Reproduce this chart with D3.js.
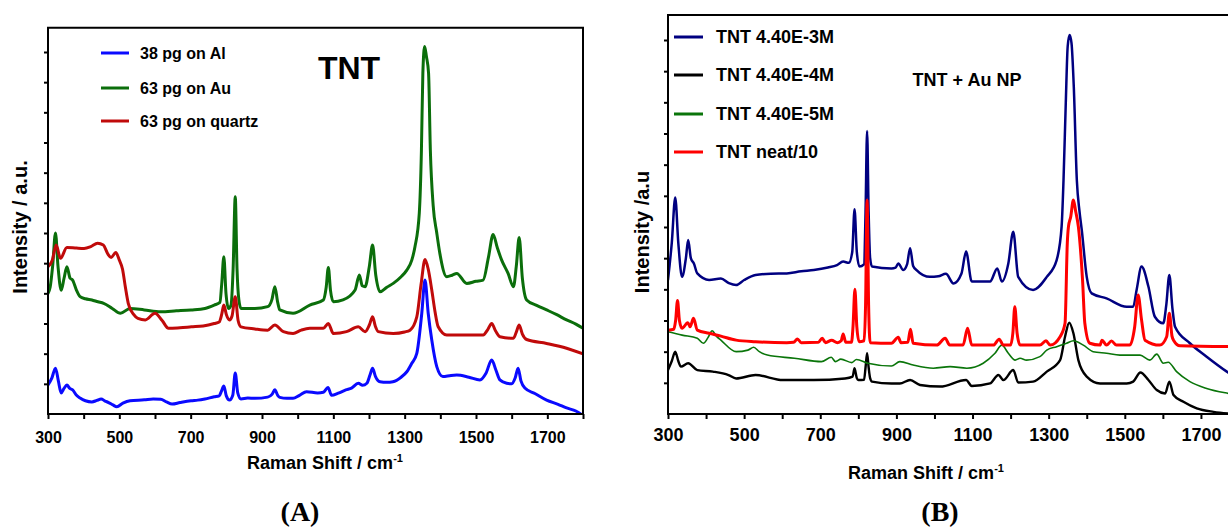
<!DOCTYPE html>
<html><head><meta charset="utf-8">
<script src="https://cdn.jsdelivr.net/npm/d3@7"></script>
<style>
html,body{margin:0;padding:0;background:#fff;}
svg{display:block;}
text{font-weight:bold;fill:#000;}
</style></head>
<body>
<svg id="c" width="1228" height="529"></svg>
<script>
// ---------- Data (wavenumber cm-1, intensity in y-tick units) ----------
const xTicks = [300,400,500,600,700,800,900,1000,1100,1200,1300,1400,1500,1600,1700,1800];
const xTickLabels = [300,500,700,900,1100,1300,1500,1700];
const yTicks = [1,2,3,4,5,6,7,8,9,10,11,12];

const legendA = ["38 pg on Al","63 pg on Au","63 pg on quartz"];
const legendB = ["TNT 4.40E-3M","TNT 4.40E-4M","TNT 4.40E-5M","TNT neat/10"];

const al38 = [[300,0.96],[311,1.2],[321,1.52],[329,1.1],[337,0.70],[345,0.85],[353,0.96],[361,0.85],[369,0.80],[380,0.62],[390,0.53],[405,0.44],[423,0.40],[437,0.45],[449,0.50],[460,0.43],[470,0.38],[482,0.30],[493,0.24],[510,0.36],[530,0.44],[570,0.47],[595,0.50],[616,0.49],[632,0.40],[648,0.33],[670,0.38],[701,0.44],[720,0.46],[740,0.50],[766,0.57],[780,0.60],[786,0.75],[793,0.93],[800,0.6],[809,0.46],[818,0.62],[825,1.36],[832,0.70],[841,0.50],[860,0.53],[880,0.52],[916,0.56],[928,0.65],[936,0.80],[944,0.62],[950,0.55],[970,0.52],[987,0.52],[1005,0.62],[1025,0.74],[1056,0.70],[1072,0.72],[1085,0.88],[1095,0.62],[1114,0.69],[1135,0.80],[1151,0.86],[1170,1.02],[1182,0.95],[1194,1.02],[1203,1.3],[1210,1.52],[1218,1.25],[1231,1.07],[1250,1.05],[1267,1.07],[1290,1.22],[1306,1.40],[1320,1.68],[1334,2.01],[1348,3.34],[1357,4.44],[1366,3.34],[1376,2.45],[1390,1.57],[1407,1.24],[1430,1.28],[1446,1.29],[1480,1.22],[1511,1.13],[1528,1.35],[1544,1.79],[1556,1.45],[1567,1.13],[1586,1.02],[1600,1.00],[1610,1.2],[1618,1.52],[1626,1.1],[1637,0.86],[1665,0.68],[1698,0.46],[1730,0.32],[1754,0.20],[1780,0.10],[1800,-0.05]];

const au63 = [[300,4.0],[306,4.2],[313,4.9],[321,6.0],[328,4.9],[337,4.1],[345,4.5],[353,4.88],[362,4.5],[369,4.44],[380,4.1],[390,3.89],[405,3.82],[423,3.78],[440,3.72],[456,3.67],[480,3.5],[503,3.34],[530,3.5],[570,3.45],[616,3.39],[660,3.42],[701,3.45],[740,3.5],[766,3.61],[782,3.7],[787,4.3],[793,5.21],[799,4.0],[806,3.5],[813,3.6],[819,4.8],[825,7.2],[830,4.8],[835,3.8],[841,3.5],[880,3.5],[916,3.56],[928,3.8],[936,4.22],[944,3.7],[950,3.45],[987,3.34],[1034,3.61],[1072,3.78],[1080,4.2],[1086,4.86],[1092,4.1],[1100,3.72],[1127,3.78],[1161,4.11],[1173,4.61],[1181,4.25],[1189,4.22],[1201,4.9],[1210,5.6],[1219,4.6],[1231,4.05],[1250,4.2],[1268,4.33],[1290,4.55],[1306,4.77],[1320,5.1],[1329,5.55],[1341,6.66],[1347,8.75],[1351,11.3],[1356,12.18],[1361,11.85],[1367,11.3],[1372,8.75],[1380,6.9],[1390,6.0],[1399,5.3],[1418,4.55],[1433,4.6],[1446,4.66],[1474,4.33],[1500,4.4],[1520,4.44],[1535,5.2],[1548,5.95],[1560,5.5],[1572,5.1],[1590,4.66],[1605,4.22],[1613,4.9],[1621,5.85],[1630,4.5],[1642,3.78],[1670,3.6],[1698,3.45],[1725,3.3],[1754,3.12],[1780,2.98],[1800,2.84]];

const quartz63 = [[300,4.88],[312,5.1],[323,5.6],[335,5.16],[353,5.52],[380,5.5],[401,5.49],[420,5.55],[439,5.66],[455,5.6],[468,5.3],[477,5.19],[490,5.35],[500,5.1],[509,4.8],[517,4.2],[525,3.67],[540,3.3],[552,3.17],[573,3.12],[600,3.34],[620,3.1],[638,2.84],[670,2.86],[702,2.89],[735,2.92],[766,3.0],[780,3.05],[787,3.3],[793,3.61],[800,3.3],[809,3.12],[816,3.25],[825,3.89],[833,3.1],[841,2.89],[880,2.82],[916,2.78],[936,2.95],[960,2.73],[987,2.67],[1010,2.78],[1034,2.84],[1072,2.84],[1086,3.0],[1100,2.67],[1137,2.73],[1170,2.89],[1189,2.73],[1201,2.95],[1210,3.22],[1218,2.9],[1226,2.73],[1268,2.67],[1300,2.72],[1315,2.78],[1334,3.22],[1346,4.3],[1357,5.12],[1366,4.8],[1376,4.11],[1385,3.4],[1394,2.89],[1418,2.62],[1474,2.62],[1520,2.62],[1533,2.8],[1544,3.0],[1555,2.75],[1567,2.56],[1605,2.51],[1614,2.75],[1621,2.95],[1630,2.65],[1642,2.47],[1698,2.34],[1754,2.18],[1800,1.99]];

const m3 = [[300,4.3],[310,5.5],[319,6.95],[327,5.5],[337,4.4],[347,5.0],[353,5.58],[360,5.0],[368,4.83],[377,4.51],[408,4.3],[439,4.35],[460,4.2],[479,4.14],[500,4.3],[530,4.46],[570,4.5],[612,4.51],[650,4.58],[683,4.62],[720,4.7],[744,4.78],[760,4.89],[775,4.85],[784,5.2],[790,6.57],[796,5.2],[803,4.73],[815,4.8],[819,6.5],[823,9.08],[827,6.5],[831,5.0],[836,4.73],[887,4.67],[898,4.7],[905,4.83],[918,4.62],[928,4.8],[936,5.32],[944,4.75],[953,4.62],[988,4.4],[1010,4.42],[1030,4.5],[1050,4.19],[1071,4.51],[1083,5.21],[1098,4.25],[1146,4.25],[1165,4.67],[1177,4.25],[1194,4.83],[1207,5.85],[1220,4.4],[1259,3.98],[1295,4.4],[1321,4.94],[1334,6.01],[1339,7.5],[1345,10.0],[1350,11.8],[1355,12.16],[1360,11.9],[1366,10.5],[1374,7.5],[1381,6.5],[1387,5.9],[1400,4.4],[1413,3.87],[1452,3.71],[1505,3.44],[1522,3.44],[1531,3.98],[1544,4.73],[1562,4.09],[1579,3.12],[1601,2.91],[1609,3.5],[1617,4.46],[1625,3.4],[1632,2.8],[1671,2.27],[1715,1.84],[1768,1.36],[1800,1.1]];

const m4 = [[300,1.41],[310,1.7],[319,2.0],[327,1.7],[334,1.52],[353,1.63],[377,1.41],[418,1.36],[459,1.25],[479,1.14],[530,1.25],[602,1.09],[683,1.09],[765,1.14],[785,1.2],[790,1.47],[796,1.15],[800,1.09],[815,1.1],[819,1.5],[823,1.95],[827,1.5],[831,1.15],[836,1.04],[887,0.98],[909,0.98],[936,1.09],[962,0.93],[1015,0.88],[1083,1.09],[1098,0.9],[1146,0.98],[1168,1.25],[1181,1.09],[1207,1.41],[1220,1.01],[1259,1.04],[1295,1.36],[1330,1.73],[1343,2.48],[1354,2.93],[1365,2.59],[1378,1.73],[1400,1.2],[1435,0.98],[1505,0.98],[1522,1.04],[1541,1.33],[1562,1.09],[1584,0.77],[1606,0.66],[1617,1.04],[1628,0.61],[1654,0.39],[1689,0.18],[1733,0.07],[1772,0.02],[1800,0.0]];

const m5 = [[300,2.64],[337,2.53],[377,2.43],[393,2.27],[405,2.45],[416,2.67],[427,2.5],[439,2.37],[479,2.0],[510,2.05],[525,2.14],[540,2.0],[561,1.89],[632,1.79],[703,1.68],[729,1.82],[740,1.68],[754,1.76],[783,1.65],[795,1.75],[825,1.63],[887,1.54],[909,1.68],[944,1.57],[997,1.47],[1041,1.52],[1085,1.47],[1128,1.63],[1159,1.95],[1177,2.21],[1194,1.95],[1212,1.73],[1225,1.79],[1242,1.73],[1277,1.84],[1295,2.05],[1321,2.16],[1347,2.27],[1365,2.35],[1391,2.21],[1417,2.0],[1452,1.95],[1487,1.89],[1540,1.89],[1566,1.73],[1584,1.92],[1601,1.63],[1614,1.66],[1636,1.36],[1671,1.04],[1715,0.82],[1772,0.66],[1800,0.6]];

const neat10 = [[300,2.69],[315,2.72],[320,3.0],[325,3.64],[330,3.0],[337,2.75],[352,2.93],[358,2.8],[367,3.07],[377,2.69],[408,2.59],[439,2.5],[479,2.37],[530,2.32],[612,2.29],[630,2.3],[640,2.41],[650,2.29],[695,2.3],[705,2.43],[714,2.29],[730,2.37],[745,2.29],[755,2.35],[760,2.57],[767,2.3],[782,2.3],[786,2.8],[791,4.0],[796,2.8],[802,2.32],[815,2.35],[819,3.5],[823,6.87],[827,3.5],[831,2.29],[887,2.27],[905,2.46],[912,2.29],[930,2.3],[937,2.72],[944,2.27],[1006,2.21],[1028,2.43],[1040,2.21],[1075,2.21],[1087,2.75],[1098,2.21],[1155,2.21],[1170,2.4],[1181,2.21],[1200,2.21],[1206,2.6],[1211,3.44],[1217,2.6],[1225,2.21],[1277,2.21],[1293,2.35],[1304,2.21],[1330,2.48],[1343,2.91],[1349,5.5],[1352,6.01],[1358,6.33],[1365,6.87],[1371,6.5],[1378,6.01],[1389,4.3],[1395,2.91],[1408,2.27],[1435,2.21],[1440,2.37],[1452,2.21],[1465,2.34],[1478,2.21],[1513,2.21],[1526,2.8],[1535,3.82],[1544,3.02],[1553,2.37],[1592,2.21],[1610,2.48],[1617,3.23],[1624,2.5],[1628,2.37],[1645,2.19],[1800,2.16]];

// ---------- Drawing ----------
const svg = d3.select("#c");
const FONT = '"Liberation Sans", Arial, sans-serif';
const SERIF = '"Liberation Serif", "Times New Roman", serif';

function panel(o){
  const g = svg.append("g").style("font-family",FONT);
  const x = d3.scaleLinear([300,1800],[o.x0,o.x1]);
  const y = d3.scaleLinear([0,12],[o.yb,o.yt12]);
  const top = y(12.8);
  const cid = "clip"+o.id;
  svg.append("clipPath").attr("id",cid).append("rect")
    .attr("x",o.x0).attr("y",top).attr("width",o.x1-o.x0).attr("height",o.yb-top);

  const line = d3.line().x(d=>x(d[0])).y(d=>y(d[1])).curve(d3.curveMonotoneX);
  const lg = g.append("g").attr("clip-path",`url(#${cid})`);
  o.series.forEach(s=>{
    lg.append("path").datum(s.data).attr("d",line)
      .attr("fill","none").attr("stroke",s.color).attr("stroke-width",s.w)
      .attr("stroke-linejoin","round").attr("stroke-linecap","round");
  });

  const xa = g.append("g").attr("transform",`translate(0,${o.yb})`)
    .call(d3.axisBottom(x).tickValues(xTicks).tickSize(5).tickSizeOuter(0)
      .tickPadding(o.tickPad).tickFormat(d=>xTickLabels.includes(d)?d:""));
  xa.select(".domain").remove();
  xa.selectAll("line").attr("stroke","#000").attr("stroke-width",2);
  xa.selectAll("text").style("font-family",FONT).style("font-weight","bold")
    .style("font-size",o.tickFont+"px").attr("fill","#000");

  const ya = g.append("g").attr("transform",`translate(${o.x0},0)`)
    .call(d3.axisLeft(y).tickValues(yTicks).tickSize(4).tickSizeOuter(0).tickFormat(""));
  ya.select(".domain").remove();
  ya.selectAll("line").attr("stroke","#000").attr("stroke-width",2);

  g.append("path").attr("d",`M${o.x0},${top}V${o.yb}H${o.x1}V${top}Z`)
    .attr("fill","none").attr("stroke","#000").attr("stroke-width",2);

  o.legend.forEach((t,i)=>{
    const ly = o.legY[i];
    g.append("line").attr("x1",o.legX0).attr("x2",o.legX1).attr("y1",ly).attr("y2",ly)
      .attr("stroke",o.series[i].color).attr("stroke-width",3);
    g.append("text").attr("x",o.legTx).attr("y",ly+o.legFont*0.36)
      .style("font-size",o.legFont+"px").text(t);
  });

  const xt = g.append("text").attr("x",o.xtX).attr("y",o.xtY).attr("text-anchor","middle")
    .style("font-size","18px");
  xt.append("tspan").text("Raman Shift / cm");
  xt.append("tspan").style("font-size","11px").attr("dy",-7).text("-1");

  g.append("text").attr("transform",`translate(${o.ytX},${o.ytY}) rotate(-90)`)
    .attr("text-anchor","middle").style("font-size","20px").text(o.ytText);

  g.append("text").attr("x",o.capX).attr("y",521).attr("text-anchor","middle")
    .style("font-family",SERIF).style("font-size","28px").text(o.caption);
  return g;
}

const gA = panel({
  id:"A", x0:48, x1:583, yb:414, yt12:52, tickPad:12.6, tickFont:16,
  series:[{data:al38,color:"#0a0aff",w:3},{data:au63,color:"#0b6e0b",w:3},{data:quartz63,color:"#c00a0a",w:3}],
  legend:legendA, legY:[53,88,121], legX0:101, legX1:129, legTx:140, legFont:16,
  xtX:325, xtY:469, ytX:27, ytY:227, ytText:"Intensity / a.u.", capX:300, caption:"(A)"
});
gA.append("text").attr("x",349).attr("y",79).attr("text-anchor","middle").style("font-size","32px").text("TNT");

const gB = panel({
  id:"B", x0:668, x1:1239, yb:414, yt12:40, tickPad:9.2, tickFont:18,
  series:[{data:m3,color:"#000080",w:2.5},{data:m4,color:"#000000",w:2.4},{data:m5,color:"#0a750a",w:1.6},{data:neat10,color:"#ff0000",w:3}],
  legend:legendB, legY:[37,75,114,152], legX0:674, legX1:703, legTx:716, legFont:18,
  xtX:926, xtY:479, ytX:649, ytY:232, ytText:"Intensity /a.u", capX:940, caption:"(B)"
});
gB.append("text").attr("x",967).attr("y",86).attr("text-anchor","middle").style("font-size","18px").text("TNT + Au NP");
</script>
</body></html>
